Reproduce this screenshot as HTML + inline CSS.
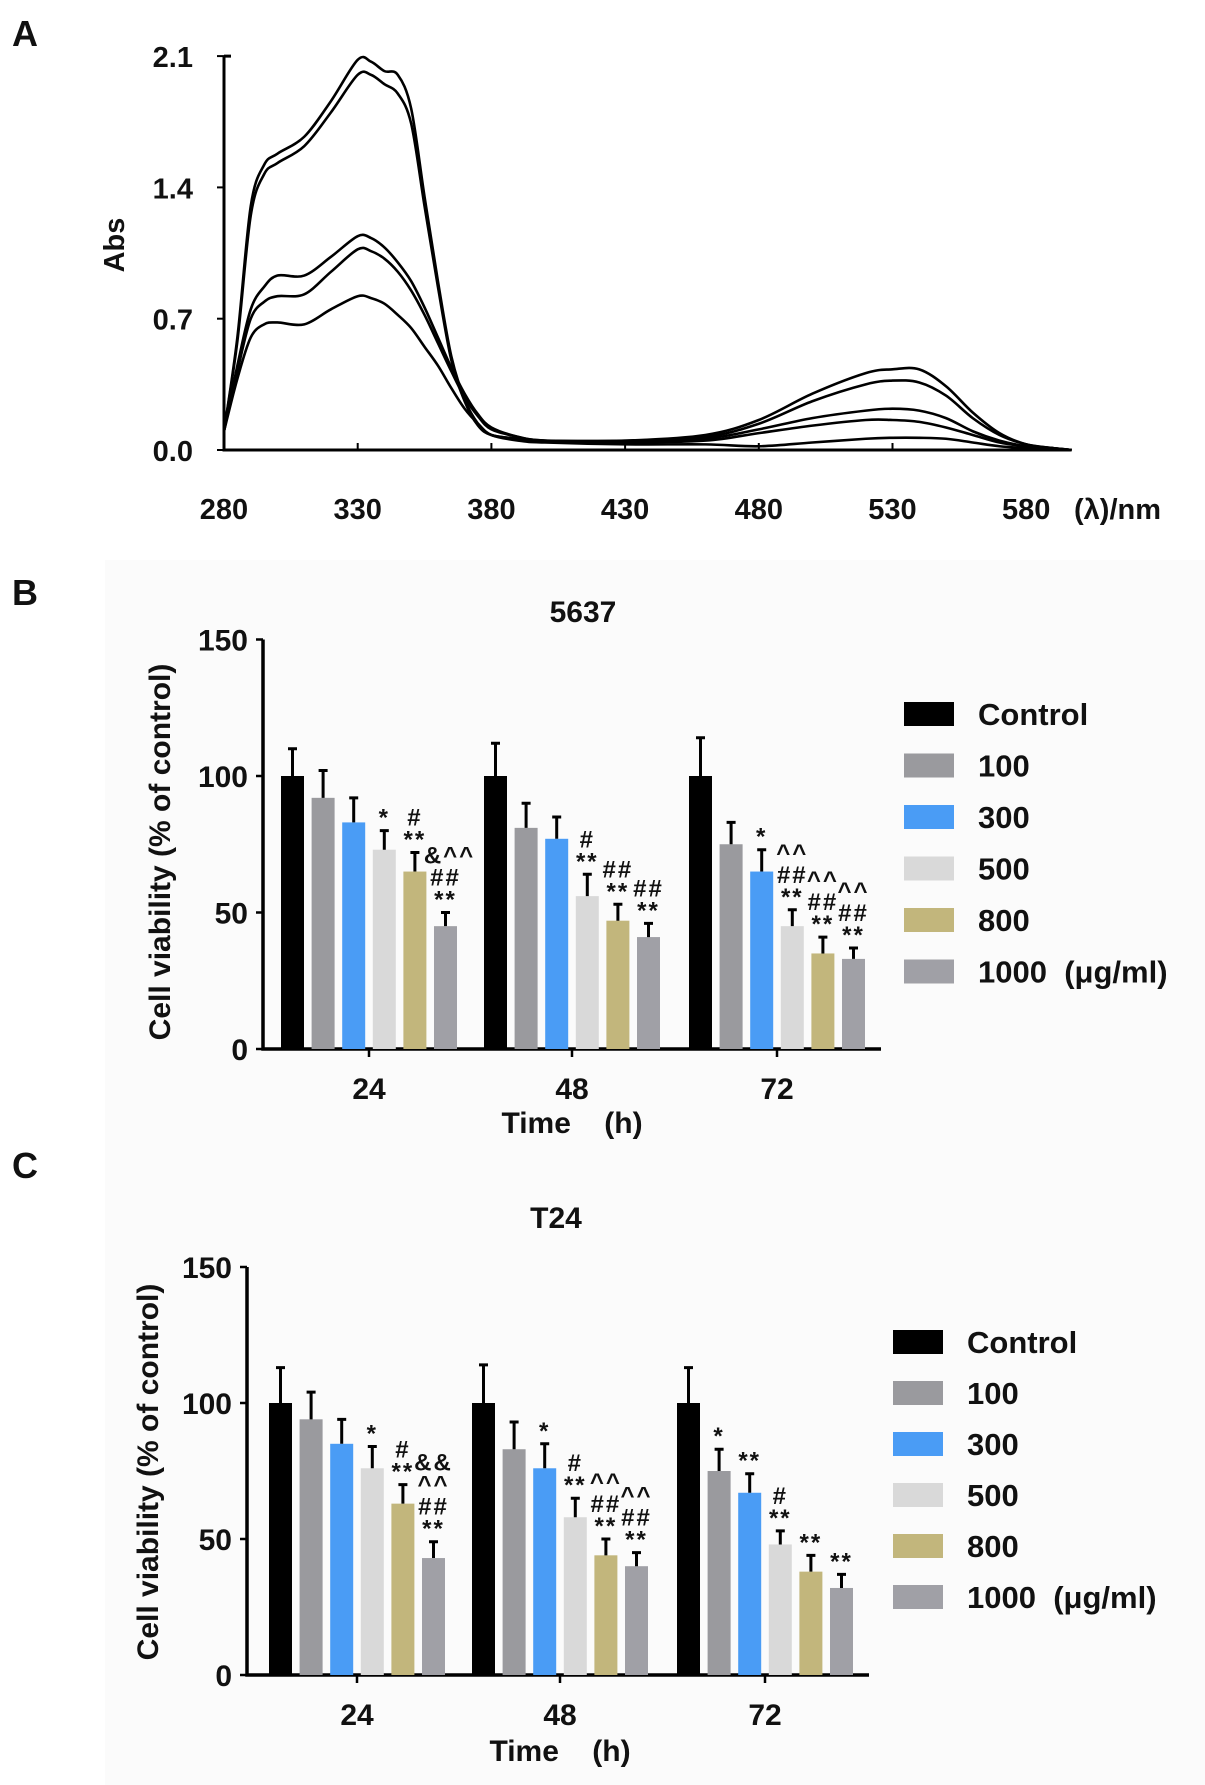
<!DOCTYPE html>
<html><head><meta charset="utf-8"><style>
html,body{margin:0;padding:0;background:#fff}
svg{display:block}
text{font-family:"Liberation Sans",Arial,sans-serif;font-weight:bold;fill:#111}
</style></head><body>
<svg id="fig" width="1205" height="1785" viewBox="0 0 1205 1785" xmlns="http://www.w3.org/2000/svg">
<rect x="0" y="0" width="1205" height="1785" fill="#fff"/>
<rect x="105" y="560" width="1100" height="1225" fill="#fbfbfb"/>
<text x="12" y="46" font-size="36">A</text>
<text x="12" y="605" font-size="36">B</text>
<text x="12" y="1178" font-size="36">C</text>
<g id="pa"></g>
<g id="pb"></g>
<g id="pc"></g>
</svg>
<script>
// ---- Panel A data ----
const wavelengths=[280,285,290,295,300,310,320,330,335,340,345,350,355,360,365,370,375,380,390,400,430,460,480,500,520,530,540,550,560,570,580,590,597];
const abs1=[0.10,0.6,1.3,1.52,1.58,1.67,1.86,2.08,2.07,2.02,2.0,1.82,1.35,0.9,0.5,0.27,0.14,0.08,0.06,0.05,0.05,0.08,0.16,0.30,0.41,0.43,0.43,0.34,0.2,0.09,0.03,0.01,0.0];
const abs2=[0.10,0.58,1.25,1.47,1.53,1.62,1.8,2.0,2.0,1.95,1.9,1.74,1.3,0.87,0.48,0.26,0.13,0.08,0.06,0.05,0.05,0.07,0.14,0.26,0.35,0.37,0.36,0.29,0.17,0.08,0.03,0.01,0.0];
const abs3=[0.10,0.45,0.75,0.87,0.93,0.93,1.03,1.14,1.13,1.08,1.0,0.9,0.76,0.6,0.44,0.3,0.19,0.12,0.07,0.05,0.04,0.06,0.11,0.17,0.21,0.22,0.21,0.17,0.1,0.05,0.02,0.01,0.0];
const abs4=[0.10,0.42,0.7,0.79,0.82,0.83,0.95,1.07,1.06,1.02,0.95,0.85,0.72,0.57,0.42,0.28,0.18,0.11,0.07,0.05,0.04,0.05,0.09,0.13,0.16,0.16,0.15,0.12,0.08,0.04,0.02,0.01,0.0];
const abs5=[0.10,0.38,0.6,0.67,0.68,0.67,0.75,0.82,0.81,0.78,0.72,0.65,0.55,0.45,0.33,0.22,0.14,0.08,0.05,0.04,0.03,0.03,0.02,0.04,0.06,0.065,0.065,0.06,0.04,0.02,0.01,0.005,0.0];
const absTicks=["0.0","0.7","1.4","2.1"];
const nmTicks=["280","330","380","430","480","530","580"];
// ---- Panel B/C data ----
const groups=["24","48","72"];
const doses=["Control","100","300","500","800","1000  (μg/ml)"];
const b24=[100,92,83,73,65,45], b48=[100,81,77,56,47,41], b72=[100,75,65,45,35,33];
const b24e=[10,10,9,7,7,5], b48e=[12,9,8,8,6,5], b72e=[14,8,8,6,6,4];
const c24=[100,94,85,76,63,43], c48=[100,83,76,58,44,40], c72=[100,75,67,48,38,32];
const c24e=[13,10,9,8,7,6], c48e=[14,10,9,7,6,5], c72e=[13,8,7,5,6,5];
const bAnn24=[[],[],[],["*"],["#","**"],["&^^","##","**"]];
const bAnn48=[[],[],[],["#","**"],["##","**"],["##","**"]];
const bAnn72=[[],[],["*"],["^^","##","**"],["^^","##","**"],["^^","##","**"]];
const cAnn24=[[],[],[],["*"],["#","**"],["&&","^^","##","**"]];
const cAnn48=[[],[],["*"],["#","**"],["^^","##","**"],["^^","##","**"]];
const cAnn72=[[],["*"],["**"],["#","**"],["**"],["**"]];
const vTicks=["0","50","100","150"];

const NS="http://www.w3.org/2000/svg";
function mk(tag,attrs,parent){const e=document.createElementNS(NS,tag);for(const k in attrs)e.setAttribute(k,attrs[k]);parent.appendChild(e);return e;}

// ---- Panel A ----
(function(){
 const g=document.getElementById('pa');
 const X=nm=>224+(nm-280)/50*133.7;
 const Y=a=>450-a/0.7*131.3;
 const ax=mk('path',{d:`M224 ${Y(2.1)} H231 M224 ${Y(2.1)} V450 H1070`,stroke:'#000','stroke-width':3,fill:'none'},g);
 
 
 absTicks.forEach(t=>{const v=parseFloat(t);
  const l=mk('line',{x1:217,x2:224,y1:Y(v),y2:Y(v),stroke:'#000','stroke-width':2},g);
  
  
  const tx=mk('text',{x:193,y:Y(v)+11,'font-size':29,'text-anchor':'end'},g);tx.textContent=t;
  
  
 });
 nmTicks.forEach(t=>{const v=parseFloat(t);
  if(v>280){const l=mk('line',{x1:X(v),x2:X(v),y1:443,y2:450,stroke:'#000','stroke-width':2},g);
  
  }
  const tx=mk('text',{x:X(v),y:519,'font-size':29,'text-anchor':'middle'},g);tx.textContent=t;
  
  
 });
 const u=mk('text',{x:1074,y:519,'font-size':29},g);u.textContent='(λ)/nm';
 
 
 const yt=mk('text',{x:0,y:0,'font-size':29,'text-anchor':'middle',transform:'translate(124,245) rotate(-90)'},g);yt.textContent='Abs';
 
 
 [abs1,abs2,abs3,abs4,abs5].forEach((s,i)=>{
  const p=wavelengths.map((w,j)=>[X(w),Y(s[j])]);
  let d=`M${p[0][0]} ${p[0][1]}`;
  for(let j=0;j<p.length-1;j++){const p0=p[Math.max(0,j-1)],p1=p[j],p2=p[j+1],p3=p[Math.min(p.length-1,j+2)];
   d+=` C${p1[0]+(p2[0]-p0[0])/6} ${p1[1]+(p2[1]-p0[1])/6} ${p2[0]-(p3[0]-p1[0])/6} ${p2[1]-(p3[1]-p1[1])/6} ${p2[0]} ${p2[1]}`;}
  const c=mk('path',{d:d,stroke:'#000','stroke-width':2.6,fill:'none'},g);
  
  
 });
})();

// ---- Bar charts ----
const colors=['#000000','#9a9a9e','#4a9cf5','#d9d9d9','#c2b67c','#a0a0a6'];
function barChart(gid,o,vals,errs,anns,title){
 const g=document.getElementById(gid);
 const Y=v=>o.y0-v/50*o.step;
 const ax=mk('path',{d:`M${o.ax} ${Y(150)} V${o.y0} H${o.xEnd}`,stroke:'#000','stroke-width':3.5,fill:'none'},g);
 
 
 vTicks.forEach(t=>{const v=+t;
  const l=mk('line',{x1:o.ax-7,x2:o.ax,y1:Y(v),y2:Y(v),stroke:'#000','stroke-width':2.5},g);
  
  
  const tx=mk('text',{x:o.ax-15,y:Y(v)+11,'font-size':30,'text-anchor':'end'},g);tx.textContent=t;
  
  
 });
 const tt=mk('text',{x:o.titleX,y:o.titleY,'font-size':30,'text-anchor':'middle'},g);tt.textContent=title;
 
 
 const yt=mk('text',{x:0,y:0,'font-size':30,'text-anchor':'middle',transform:`translate(${o.ytX},${o.ytY}) rotate(-90)`},g);yt.textContent='Cell viability (% of control)';
 
 
 const xt=mk('text',{x:o.xtX,y:o.xtY,'font-size':30,'text-anchor':'middle'},g);xt.textContent='Time    (h)';
 xt.setAttribute('xml:space','preserve');xt.style.whiteSpace='pre';
 
 
 groups.forEach((gl,gi)=>{
  const cx=o.gx[gi];
  const l=mk('line',{x1:cx,x2:cx,y1:o.y0,y2:o.y0+8,stroke:'#000','stroke-width':2.5},g);
  
  
  const tx=mk('text',{x:cx,y:o.y0+50,'font-size':30,'text-anchor':'middle'},g);tx.textContent=gl;
  
  
  vals[gi].forEach((v,bi)=>{
   const bx=cx+(bi-2.5)*30.6-11.5;
   const r=mk('rect',{x:bx,y:Y(v),width:23,height:o.y0-Y(v),fill:colors[bi]},g);
   
   
   const te=Y(v+errs[gi][bi]);
   const e=mk('path',{d:`M${bx+11.5} ${Y(v)} V${te} M${bx+7} ${te} H${bx+16}`,stroke:'#000','stroke-width':3,fill:'none'},g);
   
   
   const a=anns[gi][bi];
   a.forEach((s,k)=>{
    const ty=te-5-(a.length-1-k)*22;
    const at=mk('text',{x:bx+11.5+(s.length>2?4:0),y:ty,'font-size':24,'letter-spacing':'2','text-anchor':'middle'},g);at.textContent=s;
    
    
   });
  });
 });
 doses.forEach((d,i)=>{
  const yy=o.legY+i*o.legStep;
  const s=mk('rect',{x:o.legX,y:yy-12,width:50,height:24,fill:colors[i]},g);
  
  
  const t=mk('text',{x:o.legX+74,y:yy+11,'font-size':31},g);t.textContent=d;t.setAttribute('xml:space','preserve');t.style.whiteSpace='pre';
  
  
 });
}
barChart('pb',{ax:263,y0:1049,step:136.5,xEnd:881,gx:[369,572,777],titleX:583,titleY:622,ytX:170,ytY:852,xtX:572,xtY:1133,legX:904,legY:714,legStep:51.5},
 [b24,b48,b72],[b24e,b48e,b72e],[bAnn24,bAnn48,bAnn72],'5637');
barChart('pc',{ax:247,y0:1675,step:136,xEnd:869,gx:[357,560,765],titleX:556,titleY:1228,ytX:158,ytY:1472,xtX:560,xtY:1761,legX:893,legY:1342,legStep:51},
 [c24,c48,c72],[c24e,c48e,c72e],[cAnn24,cAnn48,cAnn72],'T24');
</script>
</body></html>
